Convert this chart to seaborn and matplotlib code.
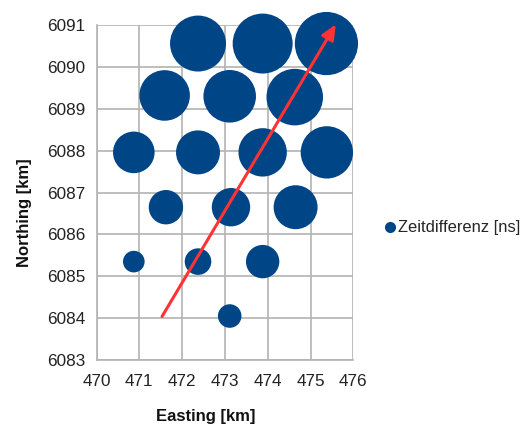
import matplotlib
matplotlib.use('Agg')
import matplotlib.pyplot as plt
import seaborn as sns
import numpy as np
import pandas as pd
from matplotlib.lines import Line2D


# bubble positions (km) and the time difference they encode
easting = [472.37, 473.88, 475.37,
           471.59, 473.11, 474.63,
           470.87, 472.37, 473.88, 475.38,
           471.62, 473.14, 474.65,
           470.87, 472.37, 473.88,
           473.11]
northing = [6090.56, 6090.56, 6090.56,
            6089.32, 6089.30, 6089.28,
            6087.96, 6087.96, 6087.96, 6087.96,
            6086.65, 6086.65, 6086.65,
            6085.35, 6085.35, 6085.35,
            6084.05]
zeitdiff = [78.4, 90.0, 100.5,
            64.0, 69.2, 80.1,
            43.3, 48.4, 58.6, 68.6,
            29.6, 36.9, 48.4,
            11.7, 17.7, 27.9,
            13.9]

# direction arrow (start -> end)
arrow_start = (471.53, 6084.04)
arrow_end = (475.59, 6091.02)

x_ticks = [470, 471, 472, 473, 474, 475, 476]
y_ticks = [6083, 6084, 6085, 6086, 6087, 6088, 6089, 6090, 6091]

BLUE = '#004586'
RED = '#ff3333'
GRID = '#b3b3b3'

df = pd.DataFrame({'Easting': easting, 'Northing': northing,
                   'Zeitdifferenz': zeitdiff})

sns.set_style('white')
plt.rcParams['font.family'] = ['Liberation Sans', 'DejaVu Sans']

fig = plt.figure(figsize=(5.22, 4.26), dpi=100)
ax = fig.add_axes([0.185, 0.155, 0.492, 0.786])

sns.scatterplot(data=df, x='Easting', y='Northing', size='Zeitdifferenz',
                size_norm=(0, 100), sizes=(0, 2070), color=BLUE,
                edgecolor='none', alpha=1, legend=False, ax=ax, zorder=3,
                clip_on=False)

ax.annotate('', xy=arrow_end, xytext=arrow_start, annotation_clip=False,
            arrowprops=dict(arrowstyle='-|>,head_length=0.9,head_width=0.4',
                            color=RED, lw=2.2, shrinkA=0, shrinkB=0),
            zorder=4)

ax.set_xlim(470, 476)
ax.set_ylim(6083, 6091)
ax.set_xticks(x_ticks)
ax.set_yticks(y_ticks)
ax.ticklabel_format(useOffset=False, style='plain')
ax.grid(True, color=GRID, linewidth=1.2, zorder=0)
ax.set_axisbelow(True)
for side in ['top', 'right']:
    ax.spines[side].set_visible(False)
for side in ['left', 'bottom']:
    ax.spines[side].set_color(GRID)
    ax.spines[side].set_linewidth(1.2)
ax.tick_params(axis='both', colors=GRID, labelcolor='#222222',
               labelsize=12.3, width=1.2)
ax.tick_params(axis='y', length=6, pad=2)
ax.tick_params(axis='x', length=4, pad=6)

ax.set_xlabel('Easting [km]', fontsize=12, fontweight='bold', color='#111111')
ax.set_ylabel('Northing [km]', fontsize=12, fontweight='bold', color='#111111')
# label centres taken from the reference layout (axes fractions)
ax.xaxis.set_label_coords(0.426, -0.168)
ax.yaxis.set_label_coords(-0.28, 0.44)
ax.xaxis.label.set_va('center')
ax.yaxis.label.set_va('center')

handle = Line2D([], [], marker='o', linestyle='none', color=BLUE,
                markersize=8, markeredgewidth=0)
fig.legend([handle], ['Zeitdifferenz [ns]'], loc='center left',
           bbox_to_anchor=(0.735, 0.465), frameon=False, fontsize=11.9,
           handletextpad=0.05, handlelength=0.8, borderpad=0,
           borderaxespad=0)

fig.savefig('out.png', dpi=100)
